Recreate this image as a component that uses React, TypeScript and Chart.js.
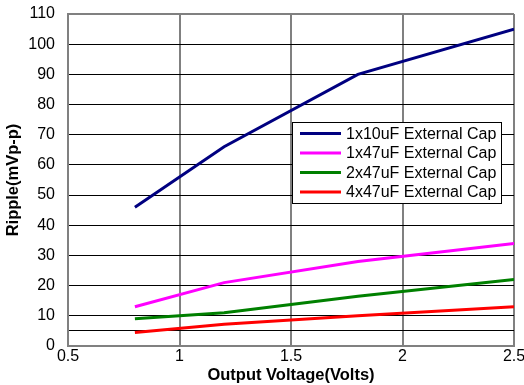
import React, { useEffect, useRef } from "react";
import { Chart, registerables } from "chart.js";

Chart.register(...registerables);

const voltages = [0.8, 1.2, 1.8, 2.5];
const cap1x10 = [46, 66, 90, 105];
const cap1x47 = [13, 21, 28, 34];
const cap2x47 = [9, 11, 16.5, 22];
const cap4x47 = [4.5, 7.2, 10, 13];
const seriesLabels = [
  "1x10uF External Cap",
  "1x47uF External Cap",
  "2x47uF External Cap",
  "4x47uF External Cap",
];
const seriesColors = ["#000080", "#FF00FF", "#008000", "#FF0000"];
const yTickValues = [0, 5, 10, 20, 30, 40, 50, 60, 70, 80, 90, 100, 110];
const xTickValues = [0.5, 1, 1.5, 2, 2.5];

const FONT = "'Liberation Sans', Arial, sans-serif";

const boxLegend = {
  id: "boxLegend",
  afterDraw(chart: any) {
    const ctx = chart.ctx;
    const left = 292, top = 122, w = 209, h = 81;
    ctx.save();
    ctx.fillStyle = "#ffffff";
    ctx.fillRect(left, top, w, h);
    ctx.strokeStyle = "#000000";
    ctx.lineWidth = 1;
    ctx.strokeRect(left + 0.5, top + 0.5, w, h);
    ctx.font = `16px ${FONT}`;
    ctx.textBaseline = "middle";
    ctx.fillStyle = "#000";
    chart.data.datasets.forEach((ds: any, i: number) => {
      const y = top + 11.5 + i * 19.5;
      ctx.strokeStyle = ds.borderColor;
      ctx.lineWidth = 3;
      ctx.beginPath();
      ctx.moveTo(300, y);
      ctx.lineTo(341, y);
      ctx.stroke();
      ctx.fillStyle = "#000";
      ctx.fillText(ds.label, 346, y + 1);
    });
    ctx.restore();
  },
};

export default function App() {
  const ref = useRef<HTMLCanvasElement>(null);
  useEffect(() => {
    document.body.style.margin = "0";
    const all = [cap1x10, cap1x47, cap2x47, cap4x47];
    const chart = new Chart(ref.current!, {
      type: "line",
      data: {
        datasets: all.map((vals, i) => ({
          label: seriesLabels[i],
          data: vals.map((v, j) => ({ x: voltages[j], y: v })),
          borderColor: seriesColors[i],
          backgroundColor: seriesColors[i],
          borderWidth: 3,
          pointRadius: 0,
          tension: 0,
          fill: false,
        })),
      },
      options: {
        animation: false,
        responsive: true,
        maintainAspectRatio: false,
        layout: { padding: { top: 14, right: 10, left: 0, bottom: 0 } },
        plugins: { legend: { display: false }, tooltip: { enabled: false } },
        scales: {
          x: {
            type: "linear",
            min: 0.5,
            max: 2.5,
            afterBuildTicks: (s: any) => {
              s.ticks = xTickValues.map((v) => ({ value: v }));
            },
            afterFit: (s: any) => {
              s.height = 39;
              s.paddingLeft = 0;
              s.paddingRight = 0;
            },
            ticks: {
              color: "#000",
              font: { family: FONT, size: 16 },
              padding: 1,
              maxRotation: 0,
              callback: (v: any) => String(v),
            },
            grid: { color: "#808080", lineWidth: 2, drawTicks: false },
            border: { color: "#808080", width: 2 },
            title: {
              display: true,
              text: "Output Voltage(Volts)",
              color: "#000",
              font: { family: FONT, size: 16.5, weight: "bold" },
              padding: { top: 0, bottom: 0 },
            },
          },
          y: {
            min: 0,
            max: 110,
            afterBuildTicks: (s: any) => {
              s.ticks = yTickValues.map((v) => ({ value: v }));
            },
            afterFit: (s: any) => {
              s.width = 68;
              s.paddingTop = 0;
              s.paddingBottom = 0;
            },
            ticks: {
              color: "#000",
              font: { family: FONT, size: 16 },
              padding: 13,
              callback: (v: any) => (v === 5 ? "" : String(v)),
            },
            grid: {
              color: (c: any) => (c.tick && (c.tick.value === 110 || c.tick.value === 0) ? "#808080" : "#000"),
              lineWidth: (c: any) => (c.tick && (c.tick.value === 110 || c.tick.value === 0) ? 2 : 1),
              drawTicks: false,
            },
            border: { color: "#808080", width: 2 },
            title: {
              display: true,
              text: "Ripple(mVp-p)",
              color: "#000",
              font: { family: FONT, size: 16.5, weight: "bold" },
              padding: { top: 4, bottom: 0 },
            },
          },
        },
      },
      plugins: [boxLegend],
    });
    return () => chart.destroy();
  }, []);
  return (
    <div style={{ position: "relative", width: 524, height: 385 }}>
      <canvas ref={ref} />
    </div>
  );
}
